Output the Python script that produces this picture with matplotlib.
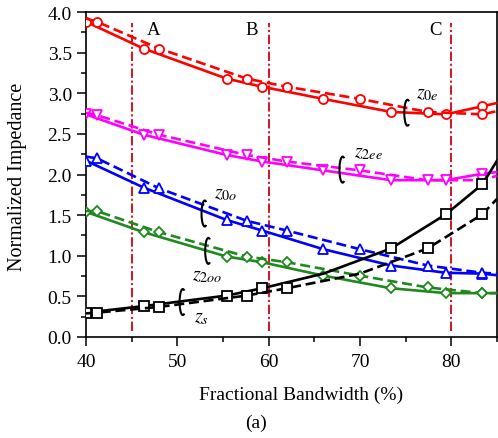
import matplotlib

matplotlib.use("Agg")
import matplotlib.pyplot as plt
from matplotlib.patches import Arc
from matplotlib.ticker import MultipleLocator, FormatStrFormatter

# marker abscissae: full model (solid) and scaled model (dashed)
bw_solid = [40.0, 46.3, 55.4, 59.3, 66.0, 73.4, 79.4, 83.4]
bw_dash = [41.2, 48.0, 57.6, 62.0, 70.0, 77.4, 83.4]
bw_start = 40.0
bw_end = 85.0

z0e_solid = [3.88, 3.55, 3.18, 3.08, 2.93, 2.77, 2.74, 2.84]
z0e_dash = [3.88, 3.55, 3.18, 3.08, 2.93, 2.77, 2.74]
z2ee_solid = [2.74, 2.49, 2.24, 2.16, 2.05, 1.93, 1.93, 2.01]
z2ee_dash = [2.73, 2.49, 2.24, 2.16, 2.05, 1.93, 1.93]
z0o_solid = [2.17, 1.84, 1.44, 1.31, 1.08, 0.88, 0.79, 0.78]
z0o_dash = [2.20, 1.83, 1.43, 1.31, 1.08, 0.88, 0.79]
z2oo_solid = [1.54, 1.29, 0.99, 0.92, 0.755, 0.60, 0.54, 0.54]
z2oo_dash = [1.55, 1.29, 0.99, 0.92, 0.755, 0.61, 0.54]
zs_solid = [0.30, 0.38, 0.51, 0.60, 0.78, 1.09, 1.51, 1.88]
zs_dash = [0.30, 0.37, 0.51, 0.60, 0.78, 1.09, 1.51]

# curve values at the axis ends
z0e_ends = (3.92, 2.88, 2.78)    # dashed start, solid end, dashed end
z2ee_ends = (2.76, 2.03, 1.985)
z0o_ends = (2.22, 0.76, 0.78)
z2oo_ends = (1.55, 0.54, 0.54)
zs_ends = (0.29, 2.17, 1.70)

# zs has no marker at the fifth point
zs_skip = 4

# band edges
band_x = [45, 60, 80]
band_y = (0.07, 3.86)
band_labels = ["A", "B", "C"]
band_label_x = [47.4, 58.1, 78.3]
band_label_y = 3.78

series = [
    ("z0e", z0e_solid, z0e_dash, z0e_ends, "#ff0000", "o"),
    ("z2ee", z2ee_solid, z2ee_dash, z2ee_ends, "#ff00ff", "v"),
    ("z0o", z0o_solid, z0o_dash, z0o_ends, "#0000ff", "^"),
    ("z2oo", z2oo_solid, z2oo_dash, z2oo_ends, "#1f881f", "D"),
    ("zs", zs_solid, zs_dash, zs_ends, "#000000", "s"),
]

# (label text, text x, text y, loop x, loop y)
tags = [
    (r"$z_{0e}$", 77.4, 3.00, 75.2, 2.76),
    (r"$z_{2ee}$", 70.9, 2.28, 68.1, 2.06),
    (r"$z_{0o}$", 55.3, 1.77, 53.0, 1.52),
    (r"$z_{2oo}$", 53.3, 0.77, 53.4, 1.06),
    (r"$z_{s}$", 52.6, 0.25, 50.6, 0.43),
]

plt.rcParams.update({
    "font.family": "Liberation Serif",
    "mathtext.fontset": "stix",
    "font.size": 14,
})

fig = plt.figure(figsize=(4.98, 4.39), dpi=100)
ax = fig.add_axes([86 / 498, 101 / 439, 411 / 498, 325 / 439])

for name, ys, yd, ends, color, mk in series:
    ms = 6.5 if mk != "D" else 5.5
    # solid curve + markers
    xs_line = bw_solid + [bw_end]
    ys_line = ys + [ends[1]]
    every = [i for i in range(len(bw_solid)) if not (name == "zs" and i == zs_skip)]
    ax.plot(xs_line, ys_line, color=color, lw=1.9, marker=mk, markevery=every,
            ms=ms, mfc="white", mec=color, mew=1.3, zorder=3)
    # dashed curve + markers
    xd_line = [bw_start] + bw_dash + [bw_end]
    yd_line = [ends[0]] + yd + [ends[2]]
    every_d = [i + 1 for i in range(len(bw_dash)) if not (name == "zs" and i == zs_skip)]
    ax.plot(xd_line, yd_line, color=color, lw=1.9, ls=(0, (3.8, 1.8)), marker=mk,
            markevery=every_d, ms=ms, mfc="white", mec=color, mew=1.3, zorder=3)

ax.vlines(band_x, band_y[0], band_y[1], colors="#c8202a", lw=1.5,
          linestyles=[(0, (4.5, 1.3, 1.0, 1.3))], zorder=2)
for lab, lx in zip(band_labels, band_label_x):
    ax.text(lx, band_label_y, lab, ha="center", va="center", fontsize=13.5)

for txt, tx, ty, lx, ly in tags:
    ax.text(tx, ty, txt, ha="center", va="center", fontsize=14.5)
    ax.add_patch(Arc((lx, ly), 0.7, 0.32, theta1=40, theta2=320,
                     color="black", lw=1.5, zorder=4))

ax.set_xlim(40, 85)
ax.set_ylim(0, 4)
ax.xaxis.set_major_locator(MultipleLocator(10))
ax.xaxis.set_minor_locator(MultipleLocator(5))
ax.yaxis.set_major_locator(MultipleLocator(0.5))
ax.yaxis.set_minor_locator(MultipleLocator(0.25))
ax.yaxis.set_major_formatter(FormatStrFormatter("%.1f"))
ax.tick_params(which="major", direction="out", length=6.2, width=1.1, labelsize=14)
ax.tick_params(axis="x", which="major", pad=5.5)
ax.tick_params(axis="y", which="major", pad=4)
ax.tick_params(which="minor", direction="out", length=3.6, width=1.1)
for sp in ax.spines.values():
    sp.set_linewidth(1.2)

fig.text(301 / 498, 1 - 395 / 439, "Fractional Bandwidth (%)", ha="center", va="center", fontsize=14)
fig.text(256 / 498, 1 - 423 / 439, "(a)", ha="center", va="center", fontsize=14)
fig.text(18 / 498, 1 - 177 / 439, "Normalized Impedance", ha="center", va="center",
         rotation=90, fontsize=14.5)

fig.savefig("out.png", dpi=100)
